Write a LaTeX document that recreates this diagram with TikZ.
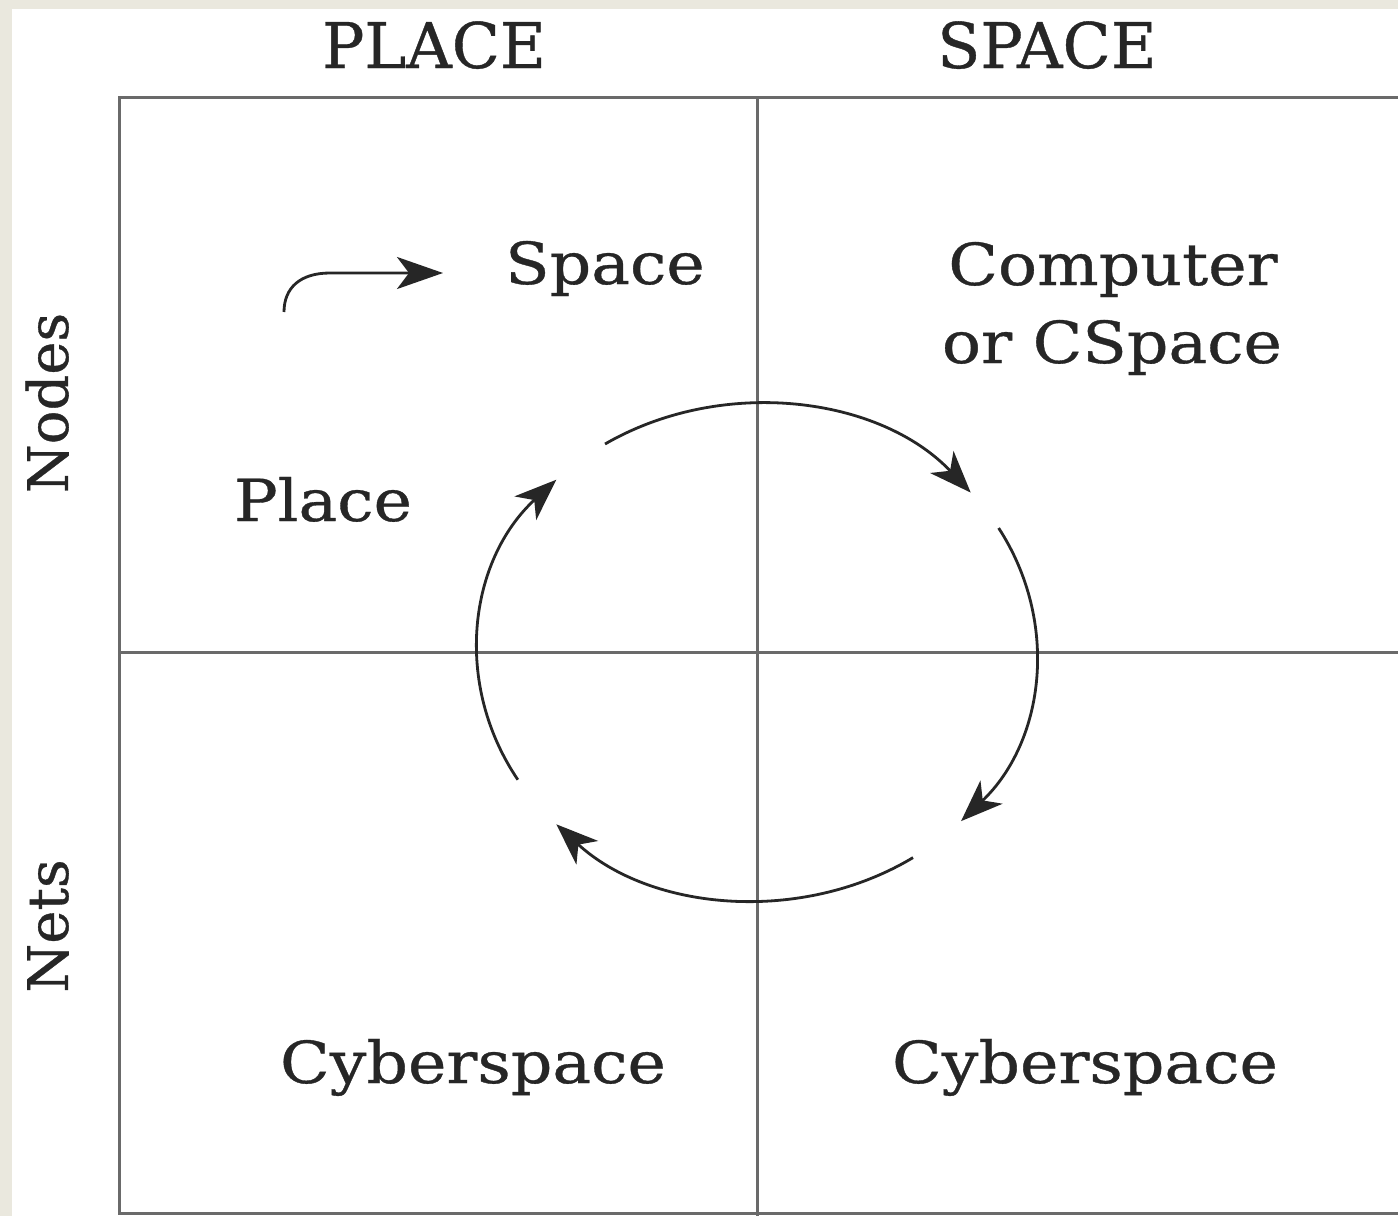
\documentclass[tikz,border=0pt]{standalone}
\usepackage{fontspec}
\usetikzlibrary{arrows.meta}
\newfontfamily\bodyfont{DejaVu Serif}[FakeStretch=1.12, FakeBold=0.6]
\newfontfamily\headfont{DejaVu Serif}[FakeBold=0.6]
\definecolor{bgbeige}{HTML}{EAE8DE}
\definecolor{gridgray}{HTML}{6A6A6A}
\definecolor{inkdark}{HTML}{262626}
\tikzset{
  gridline/.style={draw=gridgray, line width=1.5pt},
  cyc/.style={draw=inkdark, line width=1.4pt, -{Stealth[length=21pt, width=16pt, inset=6pt]}},
  label/.style={text=inkdark, font=\bodyfont\fontsize{29}{34}\selectfont, anchor=base, inner sep=0pt},
  head/.style={text=inkdark, font=\headfont\fontsize{31.5}{36}\selectfont, anchor=base, inner sep=0pt},
  sidehead/.style={text=inkdark, font=\headfont\fontsize{28}{32}\selectfont, anchor=base, inner sep=0pt, rotate=90},
}
\begin{document}
\begin{tikzpicture}[x=0.5pt, y=-0.5pt]
\useasboundingbox (0,0) rectangle (1398,1216);
\fill[bgbeige] (0,0) rectangle (1398,1216);
\fill[white] (12,9) rectangle (1398,1216);
% grid
\draw[gridline] (1398,97) -- (119,97) -- (119,1213) -- (1398,1213);
\draw[gridline] (757,97) -- (757,1216);
\draw[gridline] (119,652) -- (1398,652);
% headings
\node[head] (hplace) at (434,68) {PLACE};
\node[head] (hspace) at (1047,68) {SPACE};
\node[sidehead] (hnodes) at (68,403) {Nodes};
\node[sidehead] (hnets) at (68,926) {Nets};
% cell labels
\node[label] (space) at (605,284) {Space};
\node[label] (comp) at (1113,285) {Computer};
\node[label] (cspace) at (1112,363) {or CSpace};
\node[label] (place) at (323,521) {Place};
\node[label] (cyb1) at (473,1083) {Cyberspace};
\node[label] (cyb2) at (1085,1083) {Cyberspace};
% small arrow
\coordinate (sa) at (284,312);
\coordinate (sb) at (443,273);
\draw[cyc, -{Stealth[length=23pt, width=16pt, inset=6pt]}] (sa) .. controls (284,288) and (300,273) .. (330,273) -- (sb);
% cycle
\coordinate (c) at (757,652);
\draw[cyc] (c) ++(-123:279 and 248) arc[start angle=-123, end angle=-40, x radius=279, y radius=248];
\draw[cyc] (c) ++(-30:279 and 248) arc[start angle=-30, end angle=43, x radius=279, y radius=248];
\draw[cyc] (c) ++(56:279 and 248) arc[start angle=56, end angle=136, x radius=279, y radius=248];
\draw[cyc] (c) ++(149:279 and 248) arc[start angle=149, end angle=224, x radius=279, y radius=248];
\end{tikzpicture}
\end{document}
